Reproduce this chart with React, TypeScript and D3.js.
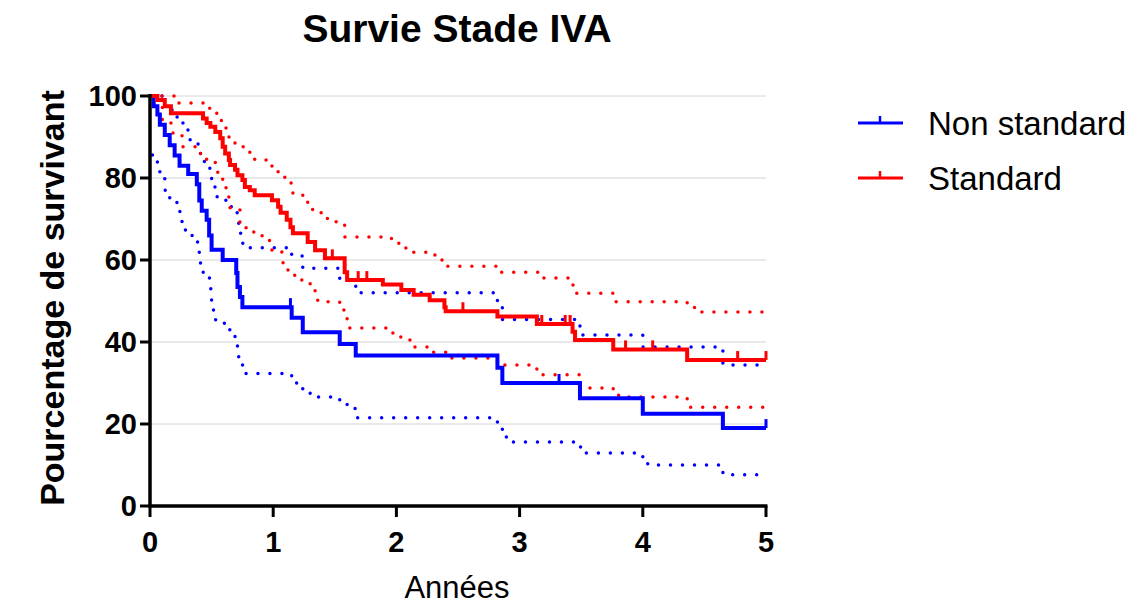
import React, { useEffect, useRef } from 'react';
import * as d3 from 'd3';

// Kaplan-Meier steps: [years, % surviving]
const nonStandard: [number, number][] = [
  [0, 100], [0.03, 97.5], [0.06, 95.5], [0.08, 93], [0.12, 90.5], [0.16, 88], [0.2, 85.5],
  [0.24, 83], [0.31, 81], [0.38, 78.5], [0.4, 74.5], [0.42, 72], [0.46, 69.8], [0.48, 66],
  [0.5, 62.5], [0.59, 60], [0.7, 56.8], [0.71, 53.4], [0.73, 51], [0.75, 48.5], [1.15, 45.9],
  [1.24, 42.4], [1.54, 39.5], [1.67, 36.7], [2.82, 33.7], [2.86, 30], [3.49, 26.3],
  [4.0, 22.5], [4.65, 19],
];
const nonStandardUpper: [number, number][] = [
  [0, 100], [0.12, 96.6], [0.18, 95], [0.22, 93.4], [0.27, 91.7], [0.31, 89.3], [0.39, 86.3],
  [0.41, 84], [0.46, 82.4], [0.49, 80.2], [0.5, 77.8], [0.53, 75.4], [0.59, 74.6], [0.62, 73],
  [0.69, 71.5], [0.71, 69], [0.72, 66.5], [0.75, 64.1], [0.8, 63], [1.15, 61], [1.24, 58],
  [1.54, 55], [1.67, 52], [2.82, 49], [2.86, 45.5], [3.49, 41.7], [4.0, 38.8], [4.65, 34.4],
];
const nonStandardLower: [number, number][] = [
  [0.02, 85.6], [0.06, 82.7], [0.08, 80], [0.12, 77], [0.16, 74], [0.22, 71.8], [0.26, 67.3],
  [0.3, 66], [0.36, 64.4], [0.39, 62], [0.4, 59.5], [0.41, 57], [0.46, 55.6], [0.49, 53],
  [0.5, 50.2], [0.51, 47.8], [0.53, 45.4], [0.58, 44.6], [0.63, 43], [0.69, 41.2], [0.71, 38.8],
  [0.72, 36.3], [0.75, 34.4], [0.78, 32.3], [1.15, 30.7], [1.19, 29], [1.24, 27.6], [1.3, 26.6],
  [1.54, 25], [1.6, 23.8], [1.67, 21.5], [2.82, 19], [2.86, 16.8], [2.93, 15.6], [3.47, 14.4],
  [3.53, 12.9], [4.0, 12], [4.04, 10], [4.65, 7.6],
];
const standard: [number, number][] = [
  [0, 100], [0.06, 99], [0.12, 97.5], [0.17, 95.8], [0.43, 94.5], [0.46, 93.4], [0.49, 92.5],
  [0.53, 91.2], [0.57, 89.7], [0.59, 87.6], [0.61, 86], [0.64, 84.4], [0.65, 83.2], [0.69, 82],
  [0.71, 80.7], [0.75, 79.5], [0.77, 77.8], [0.81, 77], [0.85, 75.8], [0.99, 74.6], [1.04, 73],
  [1.06, 71.5], [1.11, 69.8], [1.14, 68], [1.16, 66.5], [1.28, 64.4], [1.34, 62.4], [1.42, 60.4],
  [1.58, 57], [1.6, 55.1], [1.89, 54], [2.04, 52.7], [2.14, 51.5], [2.27, 50.2], [2.39, 48.5],
  [2.4, 47.5], [2.82, 46.2], [3.14, 44.4], [3.43, 42.5], [3.45, 40.5], [3.76, 38.2], [4.36, 35.6],
];
const standardUpper: [number, number][] = [
  [0, 100], [0.2, 98.3], [0.46, 97], [0.53, 95.8], [0.57, 94], [0.59, 92.2], [0.63, 90],
  [0.69, 88.5], [0.75, 87.6], [0.8, 86.3], [0.85, 84.4], [0.99, 82.4], [1.04, 80.2], [1.11, 78.8],
  [1.16, 75.8], [1.28, 74], [1.32, 71.5], [1.44, 69.3], [1.58, 65.6], [1.96, 64.1], [2.02, 62.9],
  [2.14, 61.9], [2.27, 61.2], [2.32, 60], [2.38, 58.5], [2.82, 57], [3.16, 55.6], [3.42, 53.9],
  [3.45, 51.9], [3.76, 49.8], [4.36, 49], [4.42, 47.3],
];
const standardLower: [number, number][] = [
  [0.03, 98], [0.1, 94], [0.17, 91], [0.26, 87.6], [0.4, 86], [0.46, 84.4], [0.53, 82.7],
  [0.55, 80.7], [0.59, 79], [0.6, 77.6], [0.62, 75.8], [0.64, 74], [0.65, 72.2], [0.73, 69],
  [0.78, 66.8], [0.85, 66], [0.91, 65], [0.97, 64], [0.99, 62], [1.07, 60.4], [1.08, 57.6],
  [1.12, 56.3], [1.18, 55.1], [1.27, 54.6], [1.3, 52.7], [1.34, 50.2], [1.4, 49.8], [1.54, 47.8],
  [1.58, 45.9], [1.6, 43.4], [1.94, 42.2], [2.02, 41.2], [2.09, 40.5], [2.15, 38.8], [2.3, 37.5],
  [2.44, 36.1], [2.82, 34.4], [3.14, 32], [3.49, 28.8], [3.76, 27], [3.81, 26.6], [4.36, 24.1],
];
const nonStandardCensored = [1.14, 3.32, 5];
const standardCensored = [1.48, 1.69, 1.76, 2.54, 3.18, 3.37, 3.41, 3.86, 4.08, 4.77, 5];

const xTicks = [0, 1, 2, 3, 4, 5];
const yTicks = [0, 20, 40, 60, 80, 100];
const seriesNames = ['Non standard', 'Standard'];
const seriesColors = ['#0000ff', '#ff0000'];

const FONT = '"Liberation Sans", Arial, Helvetica, sans-serif';

export default function App() {
  const svgRef = useRef<SVGSVGElement>(null);

  useEffect(() => {
    if (!svgRef.current) return;
    const svg = d3.select(svgRef.current);
    svg.selectAll('*').remove();

    const x = d3.scaleLinear().domain([0, 5]).range([150, 766]);
    const y = d3.scaleLinear().domain([0, 100]).range([506, 96]);
    const maxT = 5;

    // grid
    svg.append('g')
      .selectAll('line')
      .data(yTicks.filter((d) => d > 0))
      .enter()
      .append('line')
      .attr('x1', x(0))
      .attr('x2', x(5))
      .attr('y1', (d) => y(d))
      .attr('y2', (d) => y(d))
      .attr('stroke', '#d4d4d4')
      .attr('stroke-width', 1);

    const line = d3
      .line<[number, number]>()
      .x((d) => x(d[0]))
      .y((d) => y(d[1]))
      .curve(d3.curveStepAfter);

    const extend = (pts: [number, number][]) => [...pts, [maxT, pts[pts.length - 1][1]] as [number, number]];

    const valueAt = (pts: [number, number][], t: number) => {
      let v = pts[0][1];
      for (const p of pts) if (p[0] <= t) v = p[1];
      return v;
    };

    const dotted = [
      { pts: nonStandardUpper, color: seriesColors[0] },
      { pts: nonStandardLower, color: seriesColors[0] },
      { pts: standardUpper, color: seriesColors[1] },
      { pts: standardLower, color: seriesColors[1] },
    ];
    dotted.forEach((c) => {
      svg.append('path')
        .attr('d', line(extend(c.pts)))
        .attr('fill', 'none')
        .attr('stroke', c.color)
        .attr('stroke-width', 3.5)
        .attr('stroke-linecap', 'round')
        .attr('stroke-dasharray', '0 12');
    });

    const solid = [
      { pts: nonStandard, cens: nonStandardCensored, color: seriesColors[0] },
      { pts: standard, cens: standardCensored, color: seriesColors[1] },
    ];
    solid.forEach((c) => {
      svg.append('path')
        .attr('d', line(extend(c.pts)))
        .attr('fill', 'none')
        .attr('stroke', c.color)
        .attr('stroke-width', 4);
      svg.append('g')
        .selectAll('line')
        .data(c.cens)
        .enter()
        .append('line')
        .attr('x1', (d) => x(d))
        .attr('x2', (d) => x(d))
        .attr('y1', (d) => y(valueAt(c.pts, d)))
        .attr('y2', (d) => y(valueAt(c.pts, d)) - 9)
        .attr('stroke', c.color)
        .attr('stroke-width', 3);
    });

    // axes
    const axisColor = '#000';
    svg.append('line')
      .attr('x1', x(0)).attr('x2', x(0))
      .attr('y1', y(100) - 2).attr('y2', y(0) + 1.5)
      .attr('stroke', axisColor).attr('stroke-width', 3.5);
    svg.append('line')
      .attr('x1', x(0) - 1.5).attr('x2', x(5) + 1.5)
      .attr('y1', y(0)).attr('y2', y(0))
      .attr('stroke', axisColor).attr('stroke-width', 3.5);

    const yAxis = svg.append('g');
    yTicks.forEach((t) => {
      yAxis.append('line')
        .attr('x1', x(0) - 10).attr('x2', x(0))
        .attr('y1', y(t)).attr('y2', y(t))
        .attr('stroke', axisColor).attr('stroke-width', 3);
      yAxis.append('text')
        .attr('x', x(0) - 13)
        .attr('y', y(t) + 10)
        .attr('text-anchor', 'end')
        .style('font-family', FONT)
        .style('font-weight', 'bold')
        .style('font-size', '29px')
        .text(t);
    });

    const xAxis = svg.append('g');
    xTicks.forEach((t) => {
      xAxis.append('line')
        .attr('x1', x(t)).attr('x2', x(t))
        .attr('y1', y(0)).attr('y2', y(0) + 11)
        .attr('stroke', axisColor).attr('stroke-width', 3);
      xAxis.append('text')
        .attr('x', x(t))
        .attr('y', 552)
        .attr('text-anchor', 'middle')
        .style('font-family', FONT)
        .style('font-weight', 'bold')
        .style('font-size', '29px')
        .text(t);
    });

    svg.append('text')
      .attr('x', 457)
      .attr('y', 582 + 16)
      .attr('text-anchor', 'middle')
      .style('font-family', FONT)
      .style('font-size', '31px')
      .text('Années');

    svg.append('text')
      .attr('transform', 'translate(64,298) rotate(-90)')
      .attr('text-anchor', 'middle')
      .style('font-family', FONT)
      .style('font-weight', 'bold')
      .style('font-size', '34px')
      .text('Pourcentage de survivant');

    svg.append('text')
      .attr('x', 457)
      .attr('y', 42)
      .attr('text-anchor', 'middle')
      .style('font-family', FONT)
      .style('font-weight', 'bold')
      .style('font-size', '39px')
      .text('Survie Stade IVA');

    // legend
    const legend = svg.append('g');
    seriesNames.forEach((name, i) => {
      const ly = 123 + i * 55;
      legend.append('line')
        .attr('x1', 858).attr('x2', 903)
        .attr('y1', ly).attr('y2', ly)
        .attr('stroke', seriesColors[i]).attr('stroke-width', 3);
      legend.append('line')
        .attr('x1', 880).attr('x2', 880)
        .attr('y1', ly).attr('y2', ly - 7)
        .attr('stroke', seriesColors[i]).attr('stroke-width', 2.5);
      legend.append('text')
        .attr('x', 928)
        .attr('y', ly + 12)
        .style('font-family', FONT)
        .style('font-size', '33px')
        .text(name);
    });
  }, []);

  return (
    <svg
      ref={svgRef}
      width={1134}
      height={608}
      style={{ position: 'absolute', left: 0, top: 0, background: '#fff' }}
    />
  );
}
